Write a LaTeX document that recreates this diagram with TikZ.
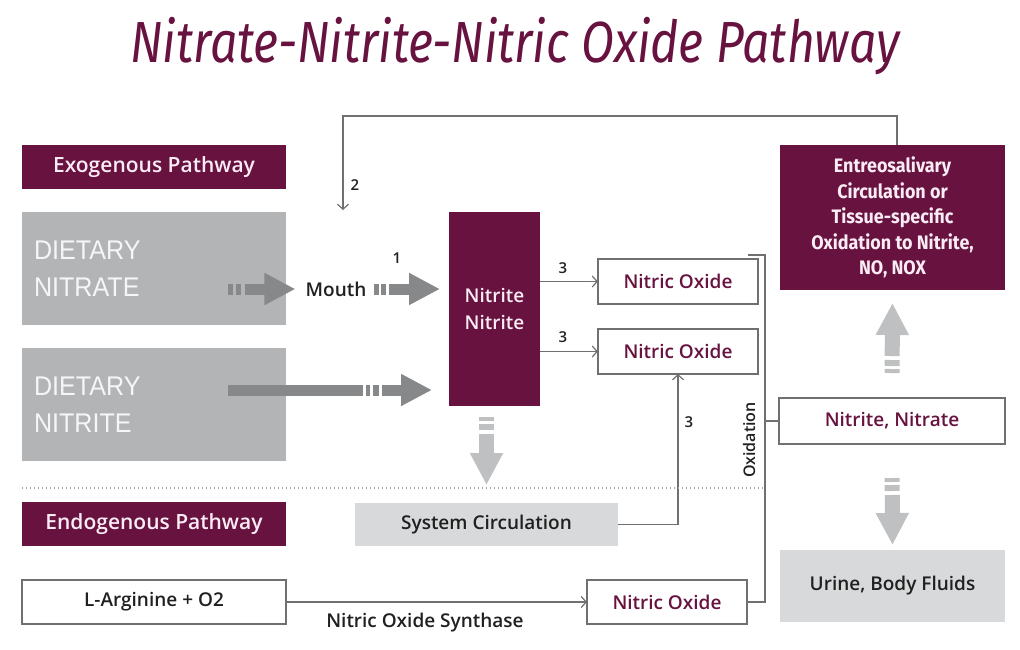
\documentclass[tikz,border=0pt]{standalone}
\usepackage{fontspec}
\IfFontExistsTF{Open Sans SemiBold}{%
	\setmainfont{Open Sans}[BoldFont={Open Sans SemiBold}]}{%
	\IfFontExistsTF{Open Sans Semibold}{%
		\setmainfont{Open Sans}[BoldFont={Open Sans Semibold}]}{%
		\setmainfont{Open Sans}}}
\newfontfamily\ttlfont{Fira Sans}[FakeStretch=0.83]
\newfontfamily\cndfont{Fira Sans}[FakeStretch=0.92]
\newfontfamily\dietfont{Liberation Sans}[FakeStretch=0.93]
\usepackage{xcolor}
\usepackage{tikz}
\usetikzlibrary{arrows.meta,positioning,calc}
\definecolor{wine}{RGB}{104,18,64}
\definecolor{pinkwhite}{RGB}{250,236,244}
\definecolor{dietgray}{RGB}{178,180,182}
\definecolor{dietwhite}{RGB}{246,246,246}
\definecolor{arrowdark}{RGB}{134,136,138}
\definecolor{arrowlight}{RGB}{190,192,194}
\definecolor{boxgray}{RGB}{216,217,218}
\definecolor{linegray}{RGB}{112,112,112}
\definecolor{textdark}{RGB}{32,32,32}
\tikzset{
	blk/.style={inner sep=0pt, outer sep=0pt, align=center,
		font=\bfseries\fontsize{19}{24}\selectfont},
	hdr/.style={blk, fill=wine, text=pinkwhite, minimum width=264pt,
		minimum height=44pt, font=\bfseries\fontsize{21}{24}\selectfont},
	diet/.style={blk, fill=dietgray, text=dietwhite, minimum width=264pt,
		minimum height=113pt, text width=240pt, align=left,
		font=\dietfont\fontsize{27}{37}\selectfont},
	dark/.style={blk, fill=wine, text=pinkwhite},
	wbox/.style={blk, draw=linegray, line width=1.2pt, fill=white, text=wine},
	gbox/.style={blk, fill=boxgray, text=textdark},
	lbl/.style={font=\bfseries\fontsize{19}{24}\selectfont, text=textdark, inner sep=0pt},
	num/.style={font=\bfseries\fontsize{15}{16}\selectfont, text=textdark, inner sep=0pt},
	conn/.style={draw=linegray, line width=1.2pt},
	arr/.style={conn, -{Straight Barb[length=5pt,width=11pt]}},
	bigdark/.style={draw=arrowdark, line width=11pt, -{Triangle[length=31pt,width=30pt]}},
	biglight/.style={draw=arrowlight, line width=15pt, -{Triangle[length=32pt,width=31pt]}},
	sepline/.style={draw=gray!70, line width=1.2pt, dash pattern=on 1.2pt off 2.8pt},
}
\begin{document}
\begin{tikzpicture}[x=1pt, y=-1pt]
	\useasboundingbox (0,0) rectangle (1020,649);
	\node[font=\ttlfont\itshape\fontsize{58}{60}\selectfont, text=wine, anchor=base, inner sep=0pt] at (515,62) (ttl) {Nitrate-Nitrite-Nitric Oxide Pathway};
	% exogenous side
	\node[hdr] at (154,167) (exo) {Exogenous Pathway};
	\node[diet] at (154,268.5) (dnat) {DIETARY\\NITRATE};
	\node[diet] at (154,404.5) (dnit) {DIETARY\\NITRITE};
	\node[lbl] at (336,289) (mouth) {Mouth};
	\node[dark, minimum width=91pt, minimum height=194pt, font=\bfseries\fontsize{19}{27}\selectfont] at (494.5,309) (nn) {Nitrite\\Nitrite};
	\node[wbox, minimum width=160pt, minimum height=45pt] at (678,281.5) (no1) {Nitric Oxide};
	\node[wbox, minimum width=160pt, minimum height=45pt] at (678,351.5) (no2) {Nitric Oxide};
	\node[dark, minimum width=225pt, minimum height=145pt, font=\cndfont\bfseries\fontsize{19.5}{25.5}\selectfont] at (892.5,217.5) (ent) {Entreosalivary\\Circulation or\\Tissue-specific\\Oxidation to Nitrite,\\NO, NOX};
	\node[wbox, minimum width=226pt, minimum height=46pt] at (892,421) (nnat) {Nitrite, Nitrate};
	\node[gbox, minimum width=225pt, minimum height=72pt] at (892.5,586) (urine) {Urine, Body Fluids};
	% endogenous side
	\node[gbox, minimum width=263pt, minimum height=43pt] at (486.5,524.5) (sysc) {System Circulation};
	\node[hdr] at (154,524) (endo) {Endogenous Pathway};
	\node[wbox, text=textdark, minimum width=264pt, minimum height=44pt] at (154,602) (larg) {L-Arginine + O2};
	\node[wbox, minimum width=160pt, minimum height=44pt] at (667,602) (no3) {Nitric Oxide};
	% labels
	\node[num] at (397,258) (n1) {1};
	\node[num] at (355,185) (n2) {2};
	\node[num] at (563,268) (n3a) {3};
	\node[num] at (563,337) (n3b) {3};
	\node[num] at (689,422) (n3c) {3};
	\node[lbl, font=\bfseries\fontsize{16}{18}\selectfont, rotate=90] at (749,440) (oxl) {Oxidation};
	\node[lbl] at (425,623) (nos) {Nitric Oxide Synthase};
	\coordinate (nattail) at (228,289);
	\coordinate (nittail) at (228,390);
	\coordinate (mouthin) at (343,210);
	\coordinate (oxtop) at (748,255);
	% block arrows
	\draw[bigdark, dash pattern=on 5pt off 2.5pt on 5pt off 4pt on 300pt, shorten >=10pt] (nattail) -- (mouth.west);
	\draw[bigdark, dash pattern=on 5pt off 2.5pt on 5pt off 3pt on 300pt, shorten <=7pt, shorten >=9pt] (mouth.east) -- (nn.west |- mouth.east);
	\draw[bigdark, dash pattern=on 135pt off 3pt on 4pt off 3pt on 6pt off 3pt on 300pt, shorten >=17pt] (nittail) -- (nn.west |- nittail);
	\draw[biglight, dash pattern=on 4pt off 3pt on 6pt off 4pt on 300pt, shorten <=11pt, shorten >=18pt] (sysc.north |- nn.south) -- (sysc.north);
	\draw[biglight, dash pattern=on 4pt off 3pt on 6pt off 4pt on 300pt, shorten <=25pt, shorten >=13pt] (nnat.north) -- (ent.south);
	\draw[biglight, dash pattern=on 4pt off 3pt on 6pt off 4pt on 300pt, shorten <=34pt, shorten >=5pt] (nnat.south) -- (urine.north);
	% thin connectors
	\draw[arr] ([xshift=4.5pt]ent.north) -- ++(0,-29) -| (mouthin);
	\draw[arr] (nn.east |- no1.west) -- (no1.west);
	\draw[arr] (nn.east |- no2.west) -- (no2.west);
	\draw[arr] (sysc.east) -| (no2.south);
	\draw[arr] (larg.east) -- (no3.west);
	\draw[conn] (no3.east) -- ++(18,0) |- (oxtop);
	\draw[conn] (nnat.west) -- ++(-14,0);
	\draw[sepline] (22,488) -- (765,488);
\end{tikzpicture}
\end{document}
